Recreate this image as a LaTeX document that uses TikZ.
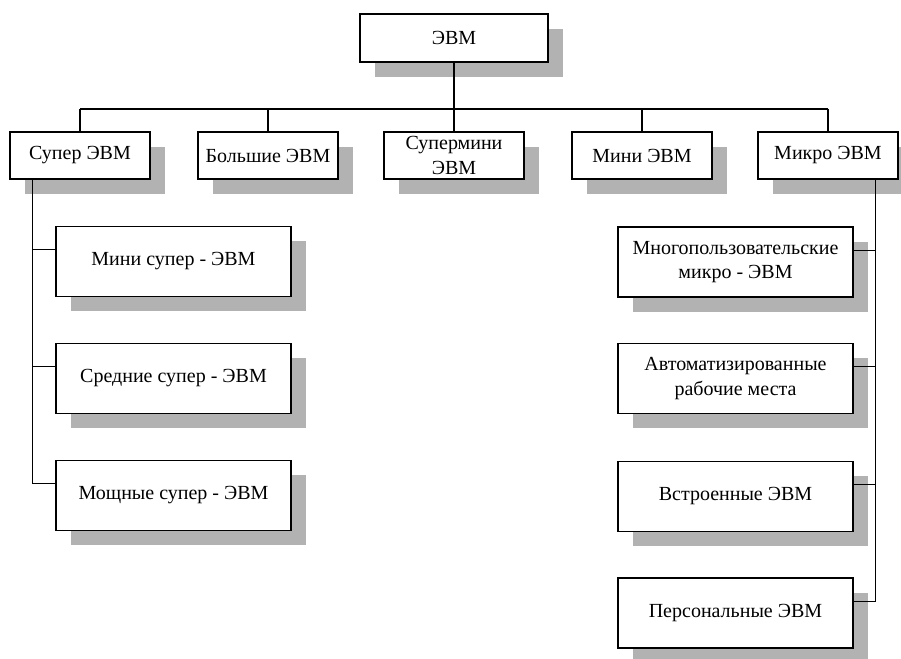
\documentclass[tikz,border=0pt]{standalone}
\usepackage{fontspec}
\setmainfont{Liberation Serif}
\usetikzlibrary{shadows}

\tikzset{every picture/.style={line width=0.75pt}}
\tikzset{
  box/.style={draw, line width=0.9pt, fill=white, align=center, inner sep=1pt,
    font=\fontsize{15}{18.5}\selectfont,
    drop shadow={shadow xshift=11.25pt, shadow yshift=-11.25pt, fill=gray!60, opacity=1}},
  topbox/.style={box, minimum width=141pt, minimum height=36pt},
  rowbox/.style={box, minimum width=105pt, minimum height=35.25pt},
  subbox/.style={box, minimum width=176.25pt, minimum height=52.5pt},
  link/.style={line width=0.9pt}
}

\begin{document}
\begin{tikzpicture}[x=0.75pt,y=0.75pt,yscale=-1,xscale=1]
\useasboundingbox (0,0) rectangle (901,659);

% Top node
\node[topbox] (evm) at (454,38) {ЭВМ};

% Second row
\node[rowbox] (super) at (80,155.5) {Супер ЭВМ};
\node[rowbox] (big) at (268,155.5) {Большие ЭВМ};
\node[rowbox] (supmini) at (454,155.5) {Супермини\\ЭВМ};
\node[rowbox] (mini) at (642,155.5) {Мини ЭВМ};
\node[rowbox] (micro) at (828,155.5) {Микро ЭВМ};

% Left column
\node[subbox] (minisup) at (173.5,261.5) {Мини супер - ЭВМ};
\node[subbox] (midsup) at (173.5,378.5) {Средние супер - ЭВМ};
\node[subbox] (powsup) at (173.5,495.5) {Мощные супер - ЭВМ};

% Right column
\node[subbox] (multi) at (735.5,262) {Многопользовательские\\микро - ЭВМ};
\node[subbox] (arm) at (735.5,378.5) {Автоматизированные\\рабочие места};
\node[subbox] (embed) at (735.5,496.5) {Встроенные ЭВМ};
\node[subbox] (pers) at (735.5,613) {Персональные ЭВМ};

% Bus
\coordinate (busl) at (80,109);
\coordinate (busr) at (828,109);
\draw[link] (busl) -- (busr);
\draw[link] (evm.south) -- (supmini.north);
\draw[link] (busl) -- (super.north);
\draw[link] (big.north |- busl) -- (big.north);
\draw[link] (mini.north |- busl) -- (mini.north);
\draw[link] (busr) -- (micro.north);

% Left branch
\coordinate (ltop) at ([xshift=17.25pt]super.south west);
\coordinate (minisupin) at ([yshift=18pt]minisup.north west);
\coordinate (midsupin) at ([yshift=18pt]midsup.north west);
\coordinate (powsupin) at ([yshift=18pt]powsup.north west);
\draw[link] (ltop) |- (powsupin);
\draw[link] (ltop |- minisupin) -- (minisupin);
\draw[link] (ltop |- midsupin) -- (midsupin);

% Right branch
\coordinate (rtop) at ([xshift=-17.25pt]micro.south east);
\coordinate (multiin) at ([yshift=18pt]multi.north east);
\coordinate (armin) at ([yshift=18pt]arm.north east);
\coordinate (embedin) at ([yshift=18pt]embed.north east);
\coordinate (persin) at ([yshift=18pt]pers.north east);
\draw[link] (rtop) |- (persin);
\draw[link] (rtop |- multiin) -- (multiin);
\draw[link] (rtop |- armin) -- (armin);
\draw[link] (rtop |- embedin) -- (embedin);

\end{tikzpicture}
\end{document}
